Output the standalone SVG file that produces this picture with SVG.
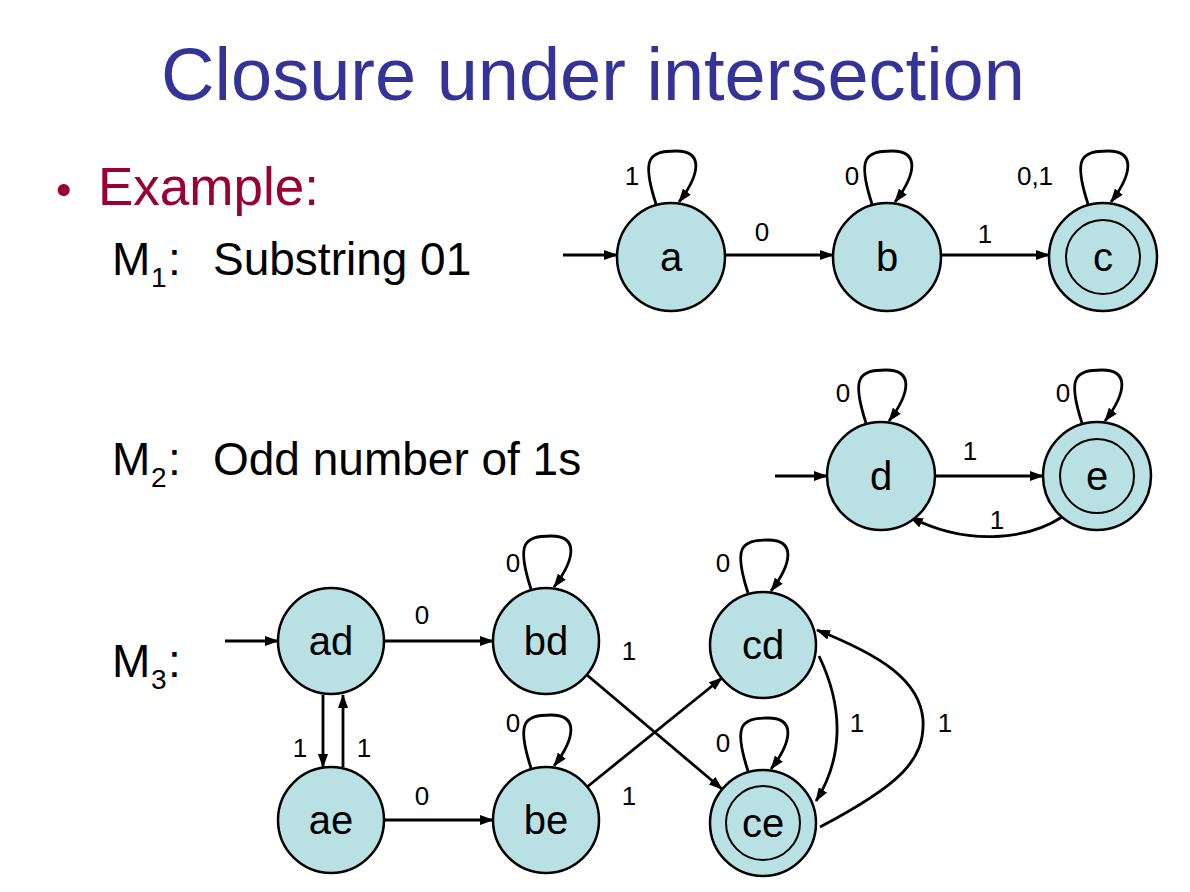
<svg xmlns="http://www.w3.org/2000/svg" width="1190" height="892" viewBox="0 0 1190 892">
<style>
.st{fill:#b9e0e3;stroke:#000;stroke-width:2.5}
.in{fill:none;stroke:#000;stroke-width:2}
.nl{font-family:"Liberation Sans",Arial,sans-serif;font-size:40px;text-anchor:middle;fill:#000}
.el{font-family:"Liberation Sans",Arial,sans-serif;font-size:26px;text-anchor:middle;fill:#000}
.tx{font-family:"Liberation Sans",Arial,sans-serif;font-size:46px;fill:#000}
.sb{font-family:"Liberation Sans",Arial,sans-serif;font-size:28px;fill:#000}
.ed{fill:none;stroke:#000;stroke-width:2.8;marker-end:url(#ah)}
</style>
<defs>
<marker id="ah" markerUnits="userSpaceOnUse" markerWidth="14" markerHeight="10" refX="13" refY="5" orient="auto">
<path d="M0,0 L14,5 L0,10 z" fill="#000"/>
</marker>
<path id="loop" d="M -15 1 C -30 -45, -22 -52, 5 -52 C 32 -52, 30 -30, 8 -1"/>
</defs>
<rect width="1190" height="892" fill="#fff"/>
<text x="593" y="100" style="font-family:'Liberation Sans',Arial,sans-serif;font-size:74px;fill:#333399;text-anchor:middle">Closure under intersection</text>
<text x="56" y="205" style="font-family:'Liberation Sans',Arial,sans-serif;font-size:44px;fill:#990033">•</text>
<text x="98" y="205" style="font-family:'Liberation Sans',Arial,sans-serif;font-size:53px;fill:#990033">Example:</text>
<g id="label-m1"><text class="tx" x="112" y="275">M</text><text class="sb" x="151" y="287">1</text><text class="tx" x="168" y="275">:</text><text class="tx" x="213" y="275">Substring 01</text></g>
<g id="label-m2"><text class="tx" x="112" y="475">M</text><text class="sb" x="151" y="487">2</text><text class="tx" x="168" y="475">:</text><text class="tx" x="213" y="475">Odd number of 1s</text></g>
<g id="label-m3"><text class="tx" x="112" y="677">M</text><text class="sb" x="151" y="689">3</text><text class="tx" x="168" y="677">:</text></g>
<g id="connectors">
<path class="ed" d="M563,255 L617,255"/>
<path class="ed" d="M725,255 L833,255"/>
<path class="ed" d="M941,255 L1049,255"/>
<use href="#loop" class="ed" transform="translate(671,203)"/>
<use href="#loop" class="ed" transform="translate(887,203)"/>
<use href="#loop" class="ed" transform="translate(1103,203)"/>
<path class="ed" d="M775,476 L827,476"/>
<path class="ed" d="M935,476 L1043,476"/>
<path class="ed" d="M1062,517 C1030,538 970,548 910,517"/>
<use href="#loop" class="ed" transform="translate(881,422)"/>
<use href="#loop" class="ed" transform="translate(1097,422)"/>
<path class="ed" d="M225,641 L278,641"/>
<path class="ed" d="M384,641 L493,641"/>
<path class="ed" d="M384,820 L493,820"/>
<path class="ed" d="M323,695 L323,767"/>
<path class="ed" d="M343,767 L343,695"/>
<path class="ed" d="M587,675 L722,789"/>
<path class="ed" d="M587,787 L722,678"/>
<path class="ed" d="M819,656 C845,710 842,760 816,801"/>
<path class="ed" d="M820,827 C900,785 925,760 923,720 C920,680 880,655 817,630"/>
<use href="#loop" class="ed" transform="translate(546,588)"/>
<use href="#loop" class="ed" transform="translate(546,767)"/>
<use href="#loop" class="ed" transform="translate(763,592)"/>
<use href="#loop" class="ed" transform="translate(763,770)"/>
</g>
<g id="edge-labels">
<text class="el" x="632" y="185">1</text>
<text class="el" x="852" y="185">0</text>
<text class="el" x="1035" y="185">0,1</text>
<text class="el" x="762" y="241">0</text>
<text class="el" x="985" y="243">1</text>
<text class="el" x="843" y="402">0</text>
<text class="el" x="1063" y="402">0</text>
<text class="el" x="970" y="460">1</text>
<text class="el" x="997" y="529">1</text>
<text class="el" x="422" y="624">0</text>
<text class="el" x="422" y="805">0</text>
<text class="el" x="300" y="757">1</text>
<text class="el" x="364" y="757">1</text>
<text class="el" x="513" y="572">0</text>
<text class="el" x="513" y="732">0</text>
<text class="el" x="723" y="572">0</text>
<text class="el" x="723" y="752">0</text>
<text class="el" x="629" y="660">1</text>
<text class="el" x="629" y="805">1</text>
<text class="el" x="857" y="732">1</text>
<text class="el" x="945" y="732">1</text>
</g>
<g id="node-a"><circle class="st" cx="671" cy="257" r="54"/><text class="nl" x="671" y="271">a</text></g>
<g id="node-b"><circle class="st" cx="887" cy="257" r="54"/><text class="nl" x="887" y="271">b</text></g>
<g id="node-c"><circle class="st" cx="1103" cy="257" r="54"/><circle class="in" cx="1103" cy="257" r="37"/><text class="nl" x="1103" y="271">c</text></g>
<g id="node-d"><circle class="st" cx="881" cy="476" r="54"/><text class="nl" x="881" y="490">d</text></g>
<g id="node-e"><circle class="st" cx="1097" cy="476" r="54"/><circle class="in" cx="1097" cy="476" r="37"/><text class="nl" x="1097" y="490">e</text></g>
<g id="node-ad"><circle class="st" cx="331" cy="641" r="53"/><text class="nl" x="331" y="655">ad</text></g>
<g id="node-bd"><circle class="st" cx="546" cy="641" r="53"/><text class="nl" x="546" y="655">bd</text></g>
<g id="node-cd"><circle class="st" cx="763" cy="645" r="53"/><text class="nl" x="763" y="659">cd</text></g>
<g id="node-ae"><circle class="st" cx="331" cy="820" r="53"/><text class="nl" x="331" y="834">ae</text></g>
<g id="node-be"><circle class="st" cx="546" cy="820" r="53"/><text class="nl" x="546" y="834">be</text></g>
<g id="node-ce"><circle class="st" cx="763" cy="823" r="53"/><circle class="in" cx="763" cy="823" r="37"/><text class="nl" x="763" y="837">ce</text></g>
</svg>
